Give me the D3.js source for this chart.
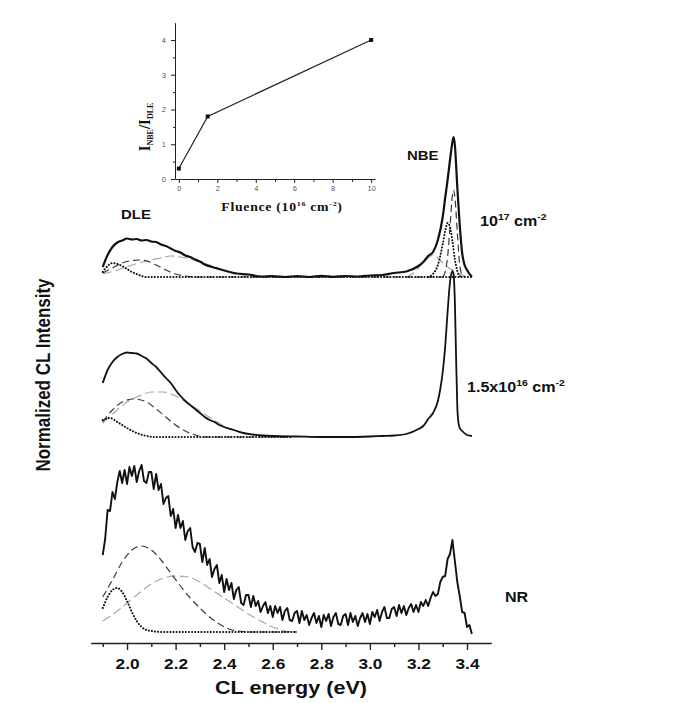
<!DOCTYPE html>
<html>
<head>
<meta charset="utf-8">
<script src="https://cdn.jsdelivr.net/npm/d3@7"></script>
<style>
  body { margin: 0; background: #fff; }
  svg { display: block; }
</style>
</head>
<body>
<svg id="chart"></svg>
<script>
// ---- data ----
const majorTicks = [2.0, 2.2, 2.4, 2.6, 2.8, 3.0, 3.2, 3.4];
const minorTicks = [1.9, 2.1, 2.3, 2.5, 2.7, 2.9, 3.1, 3.3];

// vertical offsets of the stacked spectra (normalized units)
const offsetNR = 0, offsetMid = 1.98, offsetTop = 3.58;

// NR spectrum, 1.90 eV to 3.42 eV, 0.01 eV steps (noisy)
const nrStart = 1.90, nrStep = 0.01;
const nrValues = [
  0.80, 0.96, 1.25, 1.24, 1.43, 1.36, 1.53, 1.64, 1.52, 1.65,
  1.51, 1.68, 1.59, 1.69, 1.53, 1.64, 1.70, 1.54, 1.52, 1.63,
  1.63, 1.46, 1.61, 1.45, 1.51, 1.31, 1.37, 1.39, 1.19, 1.26,
  1.07, 1.20, 1.07, 1.14, 0.95, 1.04, 1.07, 0.88, 0.83, 0.92,
  0.91, 0.73, 0.87, 0.70, 0.76, 0.58, 0.66, 0.70, 0.52, 0.60,
  0.43, 0.56, 0.45, 0.52, 0.36, 0.45, 0.48, 0.32, 0.30, 0.40,
  0.40, 0.28, 0.39, 0.29, 0.34, 0.23, 0.29, 0.33, 0.22, 0.29,
  0.18, 0.29, 0.22, 0.28, 0.15, 0.24, 0.27, 0.15, 0.14, 0.22,
  0.24, 0.12, 0.24, 0.15, 0.20, 0.10, 0.17, 0.22, 0.12, 0.19,
  0.08, 0.20, 0.14, 0.21, 0.09, 0.18, 0.22, 0.11, 0.10, 0.19,
  0.21, 0.10, 0.22, 0.13, 0.19, 0.09, 0.17, 0.22, 0.13, 0.21,
  0.11, 0.23, 0.18, 0.25, 0.14, 0.23, 0.28, 0.17, 0.17, 0.26,
  0.28, 0.19, 0.30, 0.22, 0.29, 0.20, 0.27, 0.31, 0.23, 0.30,
  0.23, 0.33, 0.29, 0.35, 0.29, 0.37, 0.43, 0.39, 0.41, 0.53,
  0.58, 0.59, 0.76, 0.81, 0.95, 0.74, 0.53, 0.39, 0.23, 0.22,
  0.08, 0.10, 0.01
];
const nrDotted = [[1.90,0.27],[1.92,0.38],[1.94,0.45],[1.96,0.47],[1.98,0.43],[2.00,0.34],[2.02,0.23],[2.04,0.14],[2.06,0.08],[2.08,0.05],[2.10,0.04],[2.15,0.03],[2.70,0.03]];
const nrDark = [[1.90,0.38],[1.94,0.55],[1.98,0.73],[2.02,0.85],[2.06,0.89],[2.10,0.85],[2.14,0.75],[2.18,0.62],[2.22,0.49],[2.26,0.37],[2.30,0.27],[2.34,0.18],[2.38,0.11],[2.42,0.06],[2.46,0.04],[2.50,0.03],[2.70,0.03]];
const nrLight = [[1.90,0.14],[1.95,0.22],[2.00,0.32],[2.05,0.42],[2.10,0.51],[2.15,0.57],[2.20,0.59],[2.25,0.58],[2.30,0.53],[2.35,0.45],[2.40,0.37],[2.45,0.29],[2.50,0.21],[2.55,0.14],[2.60,0.08],[2.65,0.04],[2.70,0.03]];

// 1.5x10^16 cm^-2 spectrum
const midSpectrum = [[1.90,0.54],[1.92,0.67],[1.94,0.75],[1.96,0.80],[1.98,0.83],[2.00,0.845],[2.02,0.84],[2.04,0.835],[2.06,0.81],[2.08,0.785],[2.10,0.74],[2.12,0.70],[2.14,0.645],[2.16,0.59],[2.18,0.54],[2.20,0.47],[2.22,0.41],[2.24,0.36],[2.26,0.32],[2.28,0.28],[2.30,0.24],[2.32,0.20],[2.34,0.17],[2.36,0.15],[2.38,0.12],[2.40,0.10],[2.44,0.07],[2.48,0.04],[2.52,0.025],[2.56,0.015],[2.60,0.01],[2.70,0.005],[2.80,0.0],[2.90,0.0],[3.00,0.005],[3.05,0.01],[3.10,0.015],[3.15,0.03],[3.20,0.08],[3.22,0.11],[3.24,0.18],[3.26,0.24],[3.28,0.36],[3.29,0.48],[3.30,0.65],[3.31,0.90],[3.32,1.25],[3.33,1.55],[3.34,1.66],[3.345,1.62],[3.35,1.35],[3.355,0.80],[3.36,0.30],[3.365,0.14],[3.37,0.09],[3.38,0.06],[3.40,0.02],[3.42,0.01]];
const midDotted = [[1.90,0.17],[1.93,0.19],[1.96,0.15],[2.00,0.09],[2.04,0.04],[2.08,0.01],[2.12,0.0],[2.68,0.0]];
const midDark = [[1.90,0.15],[1.94,0.27],[1.98,0.35],[2.03,0.38],[2.08,0.35],[2.12,0.28],[2.16,0.20],[2.20,0.12],[2.24,0.06],[2.28,0.02],[2.32,0.0],[2.68,0.0]];
const midLight = [[1.90,0.14],[1.95,0.25],[2.00,0.35],[2.05,0.41],[2.10,0.45],[2.15,0.45],[2.20,0.41],[2.25,0.34],[2.30,0.26],[2.35,0.18],[2.40,0.11],[2.45,0.06],[2.50,0.03],[2.55,0.01],[2.60,0.0],[2.68,0.0]];

// 10^17 cm^-2 spectrum
const topSpectrum = [[1.90,0.10],[1.92,0.22],[1.94,0.30],[1.96,0.345],[1.98,0.365],[2.00,0.385],[2.02,0.375],[2.04,0.38],[2.06,0.365],[2.08,0.37],[2.10,0.355],[2.12,0.35],[2.14,0.325],[2.16,0.31],[2.18,0.285],[2.20,0.26],[2.22,0.245],[2.24,0.215],[2.26,0.20],[2.28,0.175],[2.30,0.155],[2.32,0.125],[2.35,0.10],[2.40,0.065],[2.45,0.035],[2.50,0.025],[2.55,0.005],[2.60,0.01],[2.65,0.0],[2.70,0.01],[2.75,0.0],[2.80,0.012],[2.85,0.002],[2.90,0.01],[2.95,0.005],[3.00,0.015],[3.05,0.02],[3.10,0.04],[3.15,0.055],[3.20,0.11],[3.22,0.15],[3.24,0.21],[3.26,0.25],[3.28,0.37],[3.30,0.60],[3.31,0.79],[3.32,0.97],[3.33,1.17],[3.34,1.35],[3.345,1.40],[3.35,1.32],[3.36,0.90],[3.37,0.52],[3.38,0.24],[3.39,0.12],[3.40,0.07],[3.42,0.0]];
const topDotted = [[1.90,0.05],[1.92,0.11],[1.94,0.14],[1.96,0.13],[1.98,0.11],[2.00,0.08],[2.02,0.05],[2.04,0.03],[2.06,0.01],[2.08,0.0],[3.42,0.0]];
const topDark = [[1.90,0.04],[1.94,0.09],[1.98,0.14],[2.02,0.165],[2.05,0.17],[2.08,0.16],[2.12,0.12],[2.16,0.07],[2.20,0.03],[2.24,0.01],[2.28,0.0],[3.30,0.0]];
const topLight = [[1.90,0.03],[1.96,0.07],[2.02,0.12],[2.08,0.16],[2.14,0.19],[2.18,0.21],[2.22,0.20],[2.26,0.18],[2.30,0.15],[2.35,0.11],[2.40,0.07],[2.45,0.04],[2.50,0.02],[2.60,0.0],[2.70,0.0]];
const topNbeDark = [[3.30,0.0],[3.31,0.05],[3.32,0.20],[3.33,0.50],[3.34,0.82],[3.345,0.87],[3.35,0.80],[3.36,0.45],[3.37,0.12],[3.38,0.02],[3.39,0.0]];
const topNbeDotted = [[3.24,0.0],[3.26,0.03],[3.28,0.12],[3.30,0.33],[3.31,0.46],[3.32,0.54],[3.33,0.50],[3.34,0.36],[3.35,0.18],[3.36,0.06],[3.37,0.01],[3.38,0.0]];
const topNbeLight = [[3.15,0.0],[3.18,0.04],[3.21,0.12],[3.24,0.19],[3.26,0.22],[3.28,0.19],[3.30,0.14],[3.32,0.10],[3.34,0.07],[3.36,0.04],[3.38,0.02],[3.40,0.0]];

// inset: I_NBE / I_DLE vs fluence
const fluence = [0, 1.5, 10];
const ratio = [0.3, 1.8, 4.0];
const insetXTicks = [0, 2, 4, 6, 8, 10];
const insetXMinor = [1, 3, 5, 7, 9];
const insetYTicks = [0, 1, 2, 3, 4];
const insetYMinor = [0.5, 1.5, 2.5, 3.5];

// ---- chart ----
const svg = d3.select("#chart").attr("width", 685).attr("height", 703);
const sans = "'Liberation Sans', Arial, sans-serif";
const serif = "'Liberation Serif', 'Times New Roman', serif";
const stretch = 1.15; // the source figure is a bit wider than tall

const x = d3.scaleLinear().domain([1.85, 3.5]).range([90.6, 491.3]);
const y = d3.scaleLinear().domain([0, 6]).range([635, 35]);

const lineFor = (offset, curve) => d3.line()
  .x(d => x(d[0]))
  .y(d => y(offset + d[1]))
  .curve(curve);

const styles = {
  dotted: {stroke: "#111", width: 2, dash: "0.1 3", cap: "round"},
  dark: {stroke: "#3a3a3a", width: 1.2, dash: "7 4", cap: "butt"},
  light: {stroke: "#a6a6a6", width: 1.2, dash: "9 4", cap: "butt"}
};

const components = [
  {data: nrLight, off: offsetNR, s: "light"},
  {data: nrDark, off: offsetNR, s: "dark"},
  {data: nrDotted, off: offsetNR, s: "dotted"},
  {data: midLight, off: offsetMid, s: "light"},
  {data: midDark, off: offsetMid, s: "dark"},
  {data: midDotted, off: offsetMid, s: "dotted"},
  {data: topLight, off: offsetTop, s: "light"},
  {data: topNbeLight, off: offsetTop, s: "light"},
  {data: topDark, off: offsetTop, s: "dark"},
  {data: topNbeDark, off: offsetTop, s: "dark"},
  {data: topDotted, off: offsetTop, s: "dotted"},
  {data: topNbeDotted, off: offsetTop, s: "dotted"}
];

svg.append("g").selectAll("path")
  .data(components)
  .join("path")
  .attr("d", c => lineFor(c.off, d3.curveMonotoneX)(c.data))
  .attr("fill", "none")
  .attr("stroke", c => styles[c.s].stroke)
  .attr("stroke-width", c => styles[c.s].width)
  .attr("stroke-dasharray", c => styles[c.s].dash)
  .attr("stroke-linecap", c => styles[c.s].cap);

// measured spectra
const nrSpectrum = nrValues.map((v, i) => [nrStart + i * nrStep, v]);
svg.append("path")
  .attr("d", lineFor(offsetNR, d3.curveLinear)(nrSpectrum))
  .attr("fill", "none").attr("stroke", "#111").attr("stroke-width", 1.9)
  .attr("stroke-linejoin", "round");
svg.append("path")
  .attr("d", lineFor(offsetMid, d3.curveMonotoneX)(midSpectrum))
  .attr("fill", "none").attr("stroke", "#111").attr("stroke-width", 1.8);
svg.append("path")
  .attr("d", lineFor(offsetTop, d3.curveMonotoneX)(topSpectrum))
  .attr("fill", "none").attr("stroke", "#111").attr("stroke-width", 2.2);

// x axis
const gx = svg.append("g").attr("transform", "translate(0,643)");
gx.call(d3.axisBottom(x).tickValues(majorTicks).tickFormat(d3.format(".1f"))
  .tickSize(7).tickPadding(8).tickSizeOuter(0));
gx.append("g").call(d3.axisBottom(x).tickValues(minorTicks).tickFormat("").tickSize(4))
  .select(".domain").remove();
gx.selectAll(".domain, line").attr("stroke", "#222").attr("stroke-width", 1.4);
gx.selectAll("text")
  .attr("fill", "#111")
  .style("font", `bold 15px ${sans}`)
  .attr("transform", `scale(${stretch},1)`);

svg.append("text")
  .attr("transform", `translate(291,694) scale(1.2,1)`)
  .attr("text-anchor", "middle")
  .style("font", `bold 18px ${sans}`)
  .attr("fill", "#111")
  .text("CL energy (eV)");

svg.append("text")
  .attr("transform", `translate(50,375) scale(${stretch},1) rotate(-90)`)
  .attr("text-anchor", "middle")
  .style("font", `bold 17px ${sans}`)
  .attr("fill", "#111")
  .text("Normalized CL Intensity");

// labels on the spectra
function label(px, py, size, parts) {
  const t = svg.append("text")
    .attr("transform", `translate(${px},${py}) scale(${stretch},1)`)
    .style("font", `bold ${size}px ${sans}`)
    .attr("fill", "#111");
  parts.forEach(p => {
    const ts = t.append("tspan").text(p.t);
    if (p.sup) ts.attr("font-size", size * 0.65).attr("dy", -6);
    if (p.back) ts.attr("dy", 6);
  });
  return t;
}
label(121, 219, 13, [{t: "DLE"}]);
label(407, 160, 13, [{t: "NBE"}]);
label(480, 226, 14, [{t: "10"}, {t: "17", sup: true}, {t: " cm", back: true}, {t: "-2", sup: true}]);
label(467, 392, 14, [{t: "1.5x10"}, {t: "16", sup: true}, {t: " cm", back: true}, {t: "-2", sup: true}]);
label(505, 602, 14, [{t: "NR"}]);

// ---- inset ----
const ix = d3.scaleLinear().domain([-0.2, 10.2]).range([175, 375]);
const iy = d3.scaleLinear().domain([0, 4.5]).range([179, 22.6]);
const inset = svg.append("g");

const iax = inset.append("g").attr("transform", "translate(0,179)");
iax.call(d3.axisBottom(ix).tickValues(insetXTicks).tickFormat(d3.format("d"))
  .tickSize(4).tickPadding(3).tickSizeOuter(0));
iax.append("g").call(d3.axisBottom(ix).tickValues(insetXMinor).tickFormat("").tickSize(3))
  .select(".domain").remove();
const iay = inset.append("g").attr("transform", "translate(175,0)");
iay.call(d3.axisLeft(iy).tickValues(insetYTicks).tickFormat(d3.format("d"))
  .tickSize(4).tickPadding(5).tickSizeOuter(0));
iay.append("g").call(d3.axisLeft(iy).tickValues(insetYMinor).tickFormat("").tickSize(2))
  .select(".domain").remove();
inset.selectAll(".domain, line").attr("stroke", "#222").attr("stroke-width", 1);
inset.selectAll("text").attr("fill", "#555").style("font", `7.5px ${sans}`);

const pts = fluence.map((f, i) => [f, ratio[i]]);
inset.append("path")
  .attr("d", d3.line().x(d => ix(d[0])).y(d => iy(d[1]))(pts))
  .attr("fill", "none").attr("stroke", "#222").attr("stroke-width", 1.2);
inset.selectAll("rect.pt")
  .data(pts)
  .join("rect")
  .attr("class", "pt")
  .attr("x", d => ix(d[0]) - 2).attr("y", d => iy(d[1]) - 2)
  .attr("width", 4).attr("height", 4)
  .attr("fill", "#111");

const fl = inset.append("text")
  .attr("transform", `translate(282,211) scale(${stretch},1)`)
  .attr("text-anchor", "middle")
  .style("font", `bold 12px ${serif}`)
  .style("letter-spacing", "0.6px")
  .attr("fill", "#111");
fl.append("tspan").text("Fluence (10");
fl.append("tspan").text("16").attr("font-size", 7).attr("dy", -5);
fl.append("tspan").text(" cm").attr("dy", 5);
fl.append("tspan").text("-2").attr("font-size", 7).attr("dy", -5);
fl.append("tspan").text(")").attr("dy", 5);

const yl = inset.append("text")
  .attr("transform", `translate(150,127) scale(${stretch},1) rotate(-90)`)
  .attr("text-anchor", "middle")
  .style("font", `bold 15px ${serif}`)
  .attr("fill", "#111");
yl.append("tspan").text("I");
yl.append("tspan").text("NBE").attr("font-size", 8).attr("dy", 3);
yl.append("tspan").text("/I").attr("dy", -3);
yl.append("tspan").text("DLE").attr("font-size", 8).attr("dy", 3);
</script>
</body>
</html>
